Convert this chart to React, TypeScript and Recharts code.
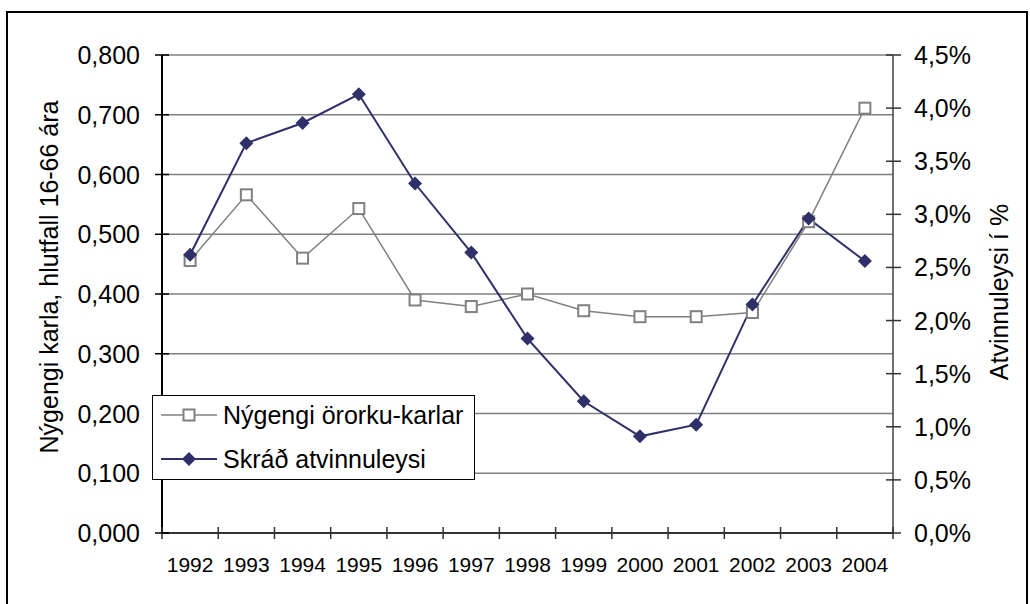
import { LineChart, Line, XAxis, YAxis, CartesianGrid, Legend, Label } from 'recharts';

const years = ['1992', '1993', '1994', '1995', '1996', '1997', '1998', '1999', '2000', '2001', '2002', '2003', '2004'];
const nygengi = [0.456, 0.566, 0.46, 0.543, 0.39, 0.379, 0.4, 0.372, 0.362, 0.362, 0.369, 0.521, 0.711];
const atvinnuleysi = [2.62, 3.67, 3.86, 4.13, 3.29, 2.64, 1.83, 1.24, 0.91, 1.02, 2.15, 2.96, 2.56];
const leftTicks = [0, 0.1, 0.2, 0.3, 0.4, 0.5, 0.6, 0.7, 0.8];
const rightTicks = [0, 0.5, 1, 1.5, 2, 2.5, 3, 3.5, 4, 4.5];

const NAVY = '#2F3069';
const GRAY = '#808080';
const FONT = '"Liberation Sans", Arial, sans-serif';

const data = years.map((year, i) => ({
  year,
  nygengi: nygengi[i],
  atvinnuleysi: atvinnuleysi[i],
}));

// plot box: 162..893 x 55..533
const PLOT_W = 893 - 162;
const BAND = PLOT_W / years.length;

const comma = (v: number, d: number) => v.toFixed(d).replace('.', ',');

function LeftTick({ x, y, payload }: any) {
  return (
    <g>
      <line x1={x - 7} x2={x + 7} y1={y} y2={y} stroke="#000" strokeWidth={1.5} />
      <text x={x - 22} y={y} dy="0.36em" textAnchor="end" fontSize={25} fontFamily={FONT} fill="#000">
        {comma(payload.value, 3)}
      </text>
    </g>
  );
}

function RightTick({ x, y, payload }: any) {
  return (
    <g>
      <line x1={x - 7} x2={x + 8} y1={y} y2={y} stroke="#333" strokeWidth={1.5} />
      <text x={x + 21} y={y} dy="0.36em" textAnchor="start" fontSize={25} fontFamily={FONT} fill="#000">
        {comma(payload.value, 1) + '%'}
      </text>
    </g>
  );
}

function YearTick({ x, y, payload, index }: any) {
  const left = x - BAND / 2;
  const right = x + BAND / 2;
  return (
    <g>
      <line x1={left} x2={left} y1={y - 6} y2={y + 6} stroke="#333" strokeWidth={1.5} />
      {index === years.length - 1 && (
        <line x1={right} x2={right} y1={y - 6} y2={y + 6} stroke="#333" strokeWidth={1.5} />
      )}
      <text x={x} y={y + 39} textAnchor="middle" fontSize={21} fontFamily={FONT} fill="#000">
        {payload.value}
      </text>
    </g>
  );
}

const SquareDot = ({ cx, cy }: any) => (
  <rect x={cx - 5.5} y={cy - 5.5} width={11} height={11} fill="#fff" stroke={GRAY} strokeWidth={2} />
);

const DiamondDot = ({ cx, cy }: any) => (
  <path d={`M${cx},${cy - 7} L${cx + 7},${cy} L${cx},${cy + 7} L${cx - 7},${cy} Z`} fill={NAVY} />
);

function LegendBox({ payload }: any) {
  return (
    <div
      style={{
        width: 323,
        height: 85,
        boxSizing: 'border-box',
        border: '1px solid #000',
        background: '#fff',
        fontFamily: FONT,
        overflow: 'hidden',
      }}
    >
      <div style={{ position: 'relative', top: -3 }}>
        {(payload || []).map((entry: any) => {
          const square = entry.dataKey === 'nygengi';
          return (
            <div key={entry.value} style={{ display: 'flex', alignItems: 'center', height: 44 }}>
              <svg width={70} height={20} style={{ flex: 'none' }}>
                <line x1={8} x2={64} y1={10} y2={10} stroke={entry.color} strokeWidth={square ? 1.5 : 2} />
                {square ? (
                  <rect x={30.5} y={4.5} width={11} height={11} fill="#fff" stroke={GRAY} strokeWidth={2} />
                ) : (
                  <path d="M36,3 L43,10 L36,17 L29,10 Z" fill={NAVY} />
                )}
              </svg>
              <span style={{ fontSize: 25, color: '#000', whiteSpace: 'nowrap' }}>{entry.value}</span>
            </div>
          );
        })}
      </div>
    </div>
  );
}

export default function App() {
  return (
    <div
      style={{
        position: 'absolute',
        left: 0,
        top: 0,
        width: 1030,
        height: 604,
        background: '#fff',
        overflow: 'hidden',
      }}
    >
      <div
        style={{
          position: 'absolute',
          left: 6,
          top: 11,
          width: 1022,
          height: 700,
          boxSizing: 'border-box',
          border: '2px solid #000',
        }}
      />
      <div style={{ position: 'absolute', left: 0, top: 0 }}>
        <LineChart width={1030} height={604} data={data} margin={{ top: 55, right: 0, bottom: 31, left: 0 }}>
          <CartesianGrid yAxisId="left" vertical={false} stroke={GRAY} strokeWidth={1.3} />
          <XAxis
            dataKey="year"
            scale="band"
            height={40}
            interval={0}
            tickSize={0}
            tickMargin={0}
            tickLine={false}
            tick={<YearTick />}
            axisLine={{ stroke: '#333', strokeWidth: 2 }}
          />
          <YAxis
            yAxisId="left"
            orientation="left"
            width={162}
            domain={[0, 0.8]}
            ticks={leftTicks}
            interval={0}
            tickSize={0}
            tickMargin={0}
            tickLine={false}
            tick={<LeftTick />}
            axisLine={{ stroke: '#000', strokeWidth: 2 }}
          >
            <Label
              content={({ viewBox }: any) => {
                const cx = viewBox.x + 49;
                const cy = viewBox.y + viewBox.height / 2 - 17;
                return (
                  <text
                    x={cx}
                    y={cy}
                    transform={`rotate(-90 ${cx} ${cy})`}
                    textAnchor="middle"
                    dominantBaseline="central"
                    fontSize={25}
                    fontFamily={FONT}
                    fill="#000"
                  >
                    Nýgengi karla, hlutfall 16-66 ára
                  </text>
                );
              }}
            />
          </YAxis>
          <YAxis
            yAxisId="right"
            orientation="right"
            width={137}
            domain={[0, 4.5]}
            ticks={rightTicks}
            interval={0}
            tickSize={0}
            tickMargin={0}
            tickLine={false}
            tick={<RightTick />}
            axisLine={{ stroke: '#404040', strokeWidth: 1.5 }}
          >
            <Label
              content={({ viewBox }: any) => {
                const cx = viewBox.x + 106;
                const cy = viewBox.y + viewBox.height / 2 - 2;
                return (
                  <text
                    x={cx}
                    y={cy}
                    transform={`rotate(-90 ${cx} ${cy})`}
                    textAnchor="middle"
                    dominantBaseline="central"
                    fontSize={25}
                    fontFamily={FONT}
                    fill="#000"
                  >
                    Atvinnuleysi í %
                  </text>
                );
              }}
            />
          </YAxis>
          <Legend
            layout="vertical"
            align="center"
            verticalAlign="middle"
            wrapperStyle={{ left: 152, top: 395, width: 323, height: 85 }}
            content={<LegendBox />}
          />
          <Line
            yAxisId="left"
            type="linear"
            dataKey="nygengi"
            name="Nýgengi örorku-karlar"
            stroke={GRAY}
            strokeWidth={1.5}
            dot={<SquareDot />}
            activeDot={false}
            isAnimationActive={false}
          />
          <Line
            yAxisId="right"
            type="linear"
            dataKey="atvinnuleysi"
            name="Skráð atvinnuleysi"
            stroke={NAVY}
            strokeWidth={2}
            dot={<DiamondDot />}
            activeDot={false}
            isAnimationActive={false}
          />
        </LineChart>
      </div>
    </div>
  );
}
